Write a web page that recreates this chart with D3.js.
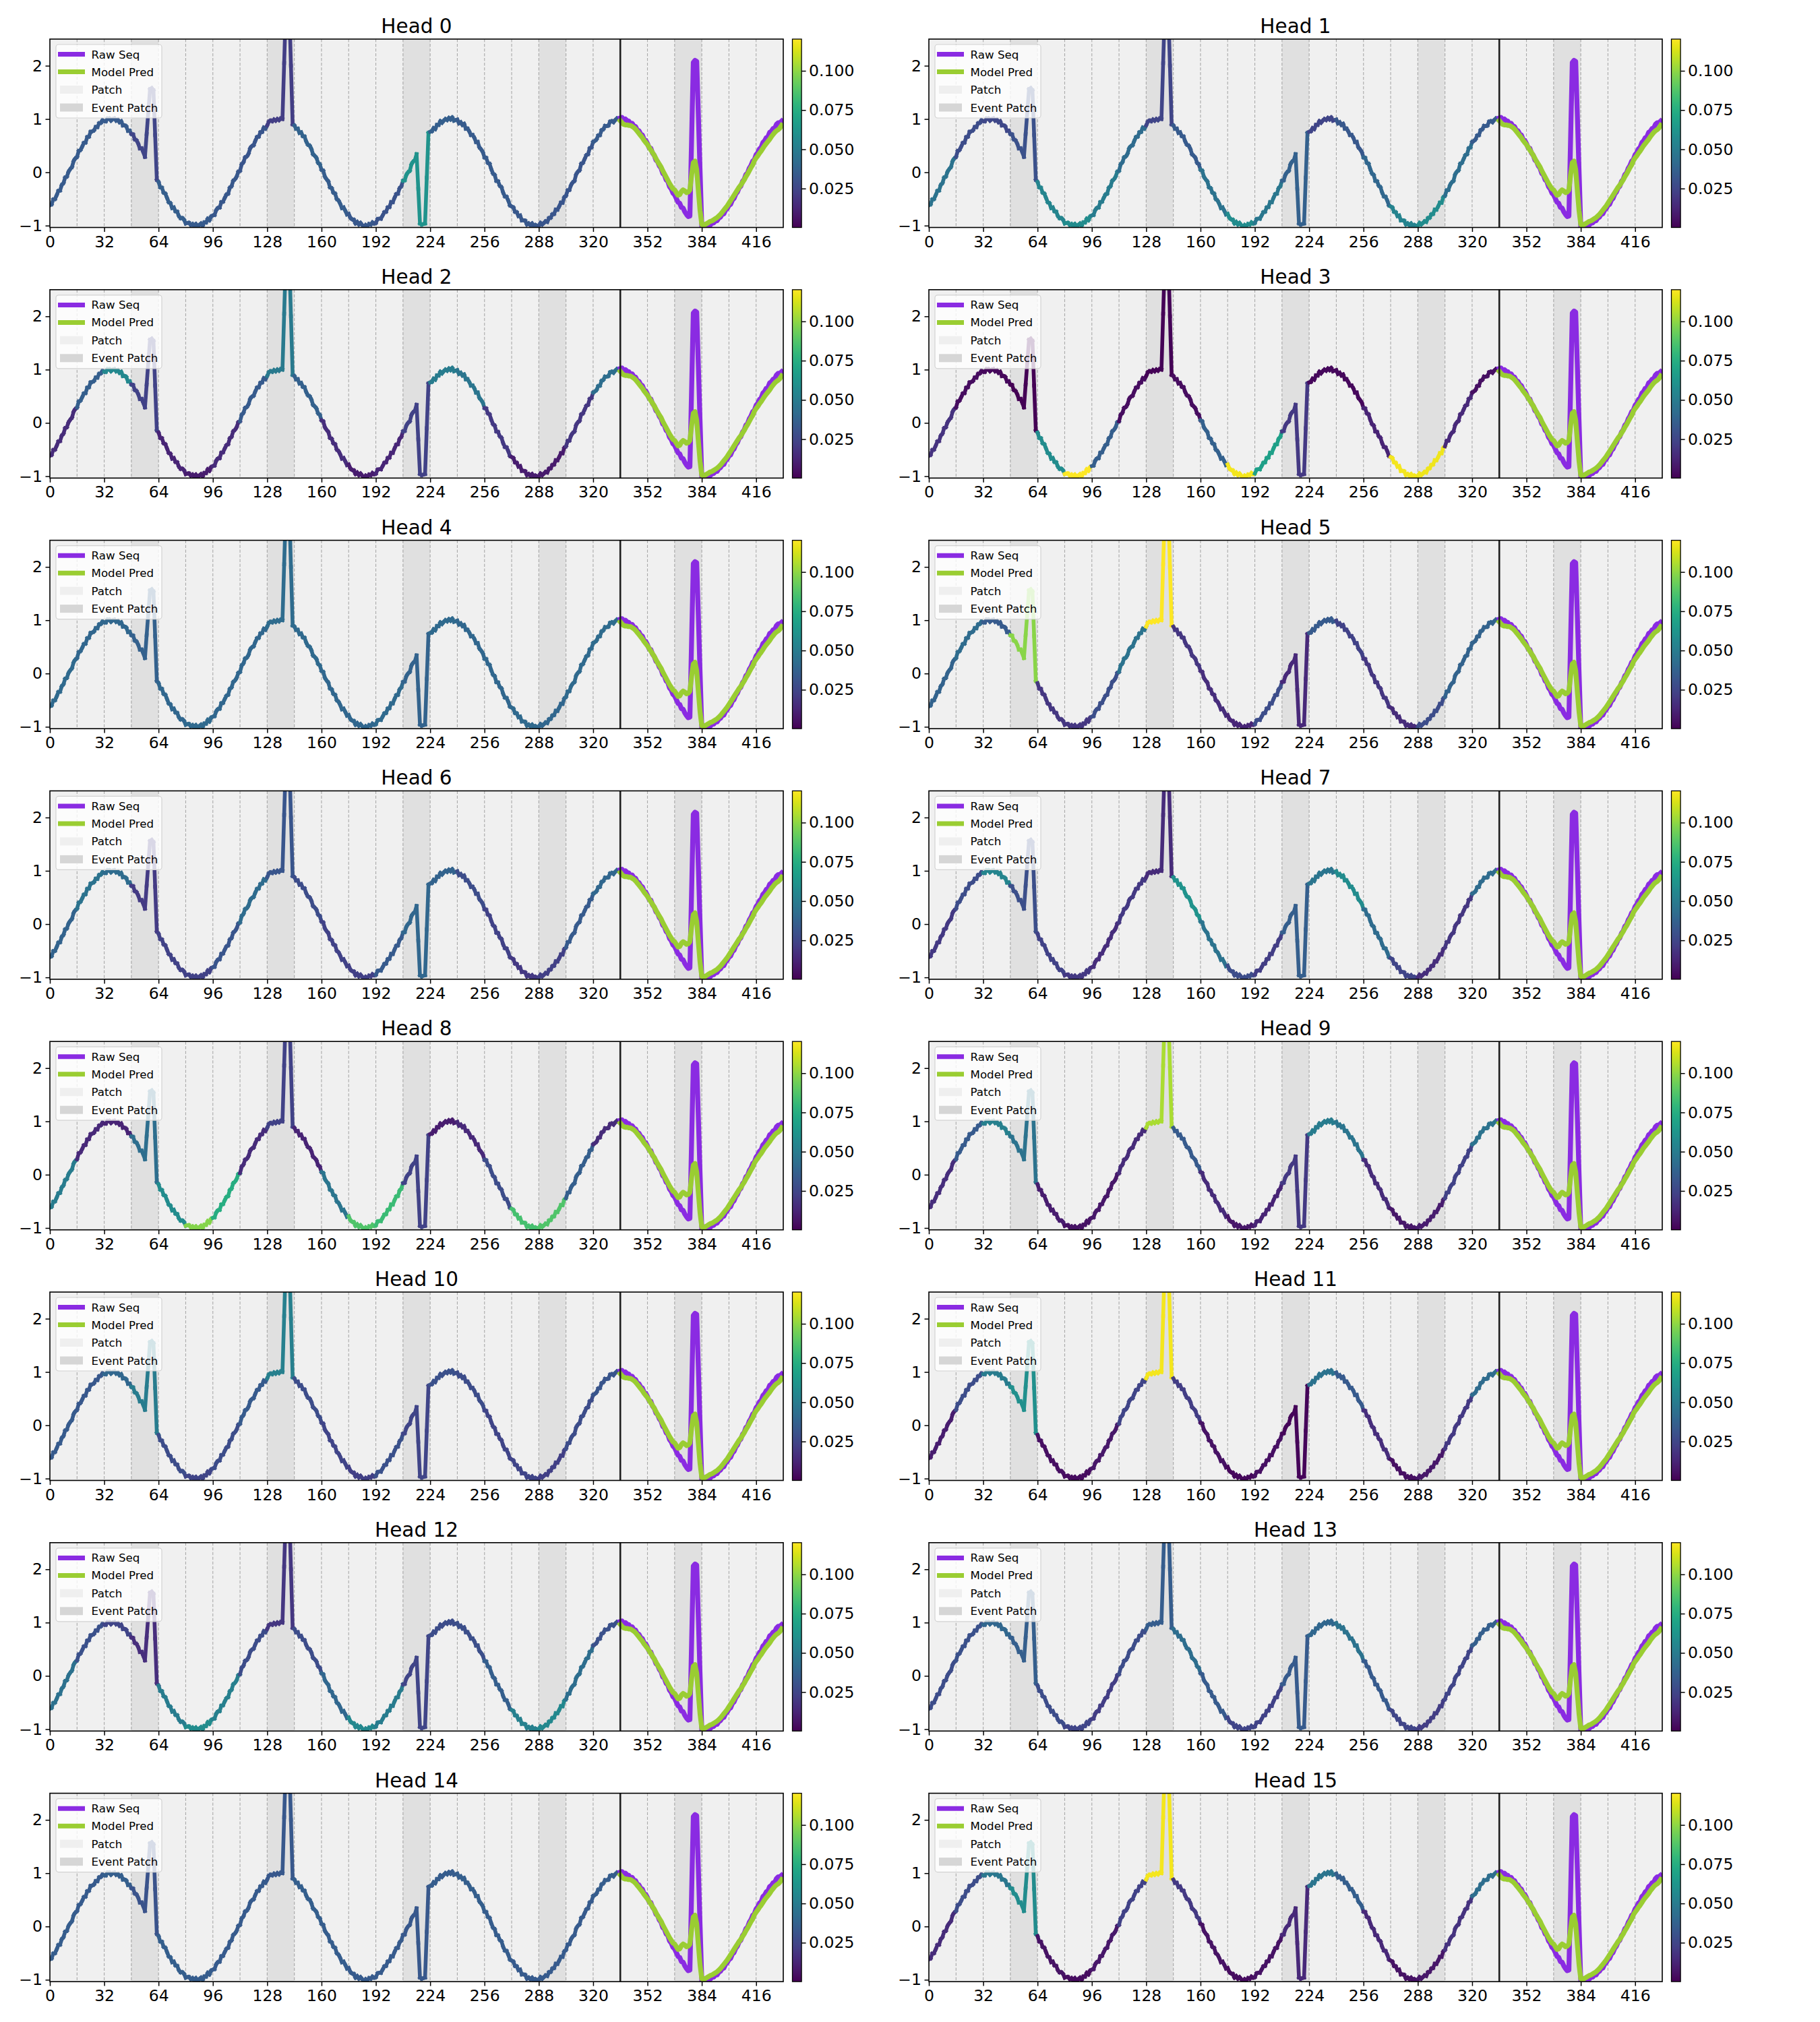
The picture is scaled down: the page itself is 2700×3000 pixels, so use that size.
<!DOCTYPE html>
<html><head><meta charset="utf-8">
<script src="https://cdn.jsdelivr.net/npm/d3@7"></script>
<style>body{margin:0;background:#fff}</style>
</head><body>
<svg id="chart" width="2700" height="3000" xmlns="http://www.w3.org/2000/svg"></svg>
<script>
// ---------------- DATA ----------------
const rawSeq = [
-0.62,-0.60,-0.51,-0.50,-0.43,-0.35,-0.34,-0.24,-0.20,-0.10,
-0.08,0.01,0.06,0.10,0.21,0.26,0.29,0.40,0.42,0.48,
0.55,0.56,0.66,0.67,0.76,0.77,0.79,0.85,0.85,0.92,
0.93,0.98,0.96,0.96,1.01,1.01,0.97,1.00,1.01,0.97,
0.99,0.94,0.96,0.88,0.88,0.86,0.78,0.78,0.72,0.71,
0.62,0.60,0.54,0.45,0.45,0.38,0.29,0.72,1.14,1.56,
1.58,1.54,0.70,-0.14,-0.18,-0.28,-0.29,-0.38,-0.40,-0.48,
-0.56,-0.58,-0.67,-0.66,-0.73,-0.74,-0.82,-0.86,-0.86,-0.89,
-0.96,-0.95,-0.95,-0.99,-0.97,-1.01,-0.97,-1.02,-0.99,-0.96,
-1.00,-0.94,-0.94,-0.87,-0.90,-0.83,-0.81,-0.80,-0.71,-0.67,
-0.66,-0.56,-0.55,-0.48,-0.42,-0.40,-0.29,-0.26,-0.16,-0.13,
-0.08,0.01,0.03,0.15,0.19,0.28,0.30,0.35,0.45,0.49,
0.51,0.59,0.66,0.67,0.75,0.76,0.84,0.82,0.88,0.95,
0.97,0.96,0.99,0.97,1.00,0.98,1.01,1.00,2.05,3.10,
3.10,3.10,2.00,0.90,0.88,0.82,0.82,0.74,0.75,0.68,
0.67,0.58,0.52,0.50,0.44,0.34,0.31,0.27,0.18,0.15,
0.05,0.03,-0.08,-0.13,-0.17,-0.28,-0.30,-0.38,-0.40,-0.50,
-0.53,-0.59,-0.67,-0.66,-0.72,-0.79,-0.78,-0.85,-0.88,-0.89,
-0.96,-0.93,-0.98,-0.95,-0.99,-1.02,-0.99,-1.01,-0.97,-0.98,
-0.94,-0.96,-0.95,-0.88,-0.87,-0.87,-0.81,-0.75,-0.74,-0.66,
-0.65,-0.56,-0.56,-0.48,-0.41,-0.40,-0.30,-0.26,-0.16,-0.15,
-0.05,0.00,0.03,0.15,0.20,0.23,0.34,-0.31,-0.96,-0.98,
-0.97,-0.96,-0.10,0.74,0.76,0.77,0.83,0.81,0.89,0.89,
0.96,0.93,0.97,1.00,0.98,1.02,0.99,1.03,0.97,0.98,
0.99,0.92,0.94,0.89,0.91,0.82,0.82,0.77,0.70,0.70,
0.65,0.57,0.57,0.47,0.43,0.38,0.28,0.27,0.18,0.16,
0.06,-0.02,-0.05,-0.16,-0.17,-0.25,-0.28,-0.38,-0.45,-0.46,
-0.53,-0.62,-0.64,-0.66,-0.74,-0.75,-0.82,-0.81,-0.90,-0.90,
-0.91,-0.98,-0.96,-0.99,-0.96,-1.02,-0.99,-1.00,-1.01,-0.95,
-0.98,-0.95,-0.92,-0.93,-0.86,-0.85,-0.79,-0.78,-0.70,-0.70,
-0.64,-0.57,-0.57,-0.47,-0.44,-0.34,-0.33,-0.24,-0.19,-0.16,
-0.04,0.01,0.04,0.16,0.18,0.25,0.32,0.34,0.45,0.47,
0.57,0.59,0.62,0.69,0.70,0.79,0.81,0.87,0.87,0.88,
0.95,0.96,0.94,0.98,1.01,0.99,1.02,1.03,0.98,1.00,
0.97,0.96,0.91,0.92,0.87,0.86,0.79,0.78,0.72,0.70,
0.62,0.60,0.54,0.46,0.45,0.36,0.32,0.23,0.20,0.12,
0.08,-0.02,-0.05,-0.14,-0.17,-0.27,-0.31,-0.39,-0.42,-0.49,
-0.56,-0.58,-0.66,-0.67,-0.74,-0.79,-0.83,-0.82,0.62,2.06,
2.10,2.08,1.05,0.00,-1.02,-0.99,-0.98,-1.00,-0.97,-0.99,
-0.95,-0.95,-0.91,-0.91,-0.86,-0.84,-0.79,-0.78,-0.71,-0.68,
-0.62,-0.60,-0.52,-0.49,-0.41,-0.37,-0.29,-0.26,-0.17,-0.13,
-0.04,-0.01,0.08,0.13,0.21,0.24,0.33,0.37,0.44,0.47,
0.56,0.59,0.65,0.67,0.75,0.77,0.82,0.83,0.90,0.93,
0.93,0.96
];
// model prediction for t = 336 .. 431
const modelPred = [
0.97,0.93,0.90,0.89,0.89,0.88,0.88,0.86,0.84,0.81,
0.77,0.73,0.69,0.65,0.60,0.56,0.52,0.47,0.42,0.37,
0.32,0.26,0.20,0.15,0.10,0.03,-0.03,-0.09,-0.15,-0.21,
-0.26,-0.31,-0.33,-0.38,-0.43,-0.42,-0.36,-0.33,-0.35,-0.38,
-0.37,-0.33,-0.05,0.18,0.21,0.05,-0.35,-0.72,-0.98,-1.00,
-0.98,-0.96,-0.94,-0.92,-0.91,-0.89,-0.87,-0.85,-0.82,-0.79,
-0.75,-0.71,-0.67,-0.63,-0.58,-0.53,-0.48,-0.43,-0.38,-0.33,
-0.28,-0.24,-0.19,-0.14,-0.08,-0.03,0.03,0.09,0.14,0.22,
0.27,0.31,0.36,0.40,0.45,0.50,0.54,0.58,0.62,0.67,
0.71,0.75,0.78,0.80,0.83,0.88
];
const contextEnd = 336;
const patchSize = 16;
const eventPatchStarts = [48, 128, 208, 288, 368];
const headTitles = ["Head 0","Head 1","Head 2","Head 3","Head 4","Head 5","Head 6","Head 7",
                    "Head 8","Head 9","Head 10","Head 11","Head 12","Head 13","Head 14","Head 15"];
const xTicks = [0,32,64,96,128,160,192,224,256,288,320,352,384,416];
const yTicks = [-1,0,1,2];
const cbarTicks = [0.025,0.050,0.075,0.100];
const legendLabels = ["Raw Seq","Model Pred","Patch","Event Patch"];
// attention weight per context patch (21 patches of 16 steps), one row per head
const headAttention = [
 [0.034,0.034,0.034,0.025,0.036,0.034,0.033,0.032,0.022,0.038,0.035,0.033,0.031,0.062,0.036,0.034,0.034,0.033,0.032,0.032,0.034],
 [0.046,0.028,0.026,0.030,0.055,0.058,0.050,0.042,0.025,0.034,0.046,0.058,0.048,0.037,0.025,0.033,0.040,0.054,0.058,0.043,0.034],
 [0.015,0.036,0.056,0.024,0.012,0.010,0.015,0.034,0.049,0.037,0.016,0.010,0.013,0.024,0.050,0.047,0.020,0.010,0.009,0.019,0.043],
 [0.018,0.004,0.003,0.0005,0.058,0.120,0.036,0.004,0.001,0.004,0.037,0.118,0.068,0.020,0.003,0.003,0.012,0.118,0.117,0.014,0.005],
 [0.041,0.040,0.040,0.037,0.040,0.041,0.040,0.040,0.042,0.041,0.040,0.040,0.041,0.038,0.041,0.040,0.040,0.041,0.040,0.041,0.042],
 [0.038,0.042,0.034,0.099,0.019,0.019,0.029,0.046,0.120,0.019,0.016,0.013,0.028,0.014,0.034,0.024,0.019,0.015,0.028,0.038,0.038],
 [0.038,0.046,0.042,0.021,0.024,0.024,0.032,0.042,0.032,0.028,0.024,0.023,0.034,0.040,0.038,0.028,0.024,0.020,0.023,0.034,0.040],
 [0.020,0.028,0.055,0.029,0.024,0.020,0.016,0.020,0.015,0.062,0.046,0.028,0.022,0.036,0.047,0.058,0.042,0.025,0.016,0.019,0.042],
 [0.050,0.014,0.012,0.043,0.058,0.098,0.075,0.015,0.024,0.012,0.047,0.087,0.082,0.024,0.010,0.014,0.028,0.085,0.087,0.036,0.015],
 [0.016,0.034,0.052,0.046,0.010,0.006,0.008,0.015,0.105,0.034,0.015,0.008,0.012,0.020,0.050,0.047,0.015,0.008,0.010,0.024,0.046],
 [0.034,0.033,0.040,0.050,0.028,0.025,0.028,0.034,0.052,0.028,0.025,0.023,0.030,0.025,0.030,0.028,0.025,0.025,0.023,0.028,0.032],
 [0.010,0.028,0.050,0.060,0.005,0.004,0.008,0.025,0.118,0.022,0.006,0.003,0.005,0.002,0.046,0.034,0.016,0.005,0.008,0.020,0.042],
 [0.045,0.030,0.025,0.016,0.050,0.058,0.052,0.028,0.019,0.028,0.040,0.056,0.050,0.025,0.028,0.029,0.036,0.052,0.056,0.043,0.030],
 [0.028,0.030,0.040,0.036,0.028,0.025,0.022,0.028,0.035,0.043,0.034,0.025,0.024,0.034,0.040,0.046,0.034,0.025,0.022,0.025,0.036],
 [0.035,0.034,0.036,0.031,0.036,0.035,0.034,0.034,0.033,0.036,0.035,0.034,0.034,0.033,0.035,0.036,0.035,0.034,0.034,0.034,0.035],
 [0.015,0.028,0.048,0.058,0.006,0.004,0.008,0.024,0.118,0.020,0.006,0.004,0.006,0.014,0.047,0.036,0.014,0.006,0.008,0.018,0.043]
];

// ---------------- LAYOUT / STYLE ----------------
const FONT = "'DejaVu Sans', 'Liberation Sans', sans-serif";
const colX = [74, 1378], axW = 1088, axH = 279.5, rowTop0 = 58, rowStep = 371.8;
const xDomain = [0, 432], yDomain = [-1.035, 2.5], cDomain = [0.0002, 0.1202];
const rawColor = "#8a2be2", predColor = "#9acd32";
const patchFill = "#f0f0f0", eventFill = "#e0e0e0";

const svg = d3.select("#chart");
svg.append("rect").attr("width", 2700).attr("height", 3000).attr("fill", "#ffffff");
const defs = svg.append("defs");
const color = d3.scaleSequential(d3.interpolateViridis).domain(cDomain);

const grad = defs.append("linearGradient").attr("id", "viridisGrad")
  .attr("x1", 0).attr("y1", 1).attr("x2", 0).attr("y2", 0);
d3.range(0, 1.00001, 0.02).forEach(f => grad.append("stop")
  .attr("offset", f).attr("stop-color", d3.interpolateViridis(f)));

const minus = d => (d < 0 ? "\u2212" + Math.abs(d) : String(d));

headAttention.forEach((att, h) => {
  const col = h % 2, row = Math.floor(h / 2);
  const L = colX[col], T = rowTop0 + row * rowStep;
  const x = d3.scaleLinear().domain(xDomain).range([L, L + axW]);
  const y = d3.scaleLinear().domain(yDomain).range([T + axH, T]);
  const g = svg.append("g").attr("class", "subplot");

  defs.append("clipPath").attr("id", "clip" + h).append("rect")
    .attr("x", L).attr("y", T).attr("width", axW).attr("height", axH);
  const plot = g.append("g").attr("clip-path", `url(#clip${h})`);

  const patchStarts = d3.range(xDomain[0], xDomain[1], patchSize);
  plot.selectAll("rect.patch").data(patchStarts).join("rect").attr("class", "patch")
    .attr("x", d => x(d)).attr("y", T)
    .attr("width", d => x(d + patchSize) - x(d)).attr("height", axH)
    .attr("fill", d => eventPatchStarts.includes(d) ? eventFill : patchFill);

  plot.selectAll("line.grid").data(patchStarts.slice(1)).join("line").attr("class", "grid")
    .attr("x1", d => x(d)).attr("x2", d => x(d)).attr("y1", T).attr("y2", T + axH)
    .attr("stroke", "#8a8a8a").attr("stroke-width", 1.1).attr("stroke-dasharray", "4.5,2.5")
    .attr("opacity", 0.7);

  // attention-colored context sequence
  plot.selectAll("line.seg").data(d3.range(contextEnd)).join("line").attr("class", "seg")
    .attr("x1", t => x(t)).attr("y1", t => y(rawSeq[t]))
    .attr("x2", t => x(t + 1)).attr("y2", t => y(rawSeq[t + 1]))
    .attr("stroke", t => color(att[Math.floor(t / patchSize)]))
    .attr("stroke-width", 5.6).attr("stroke-linecap", "square");

  const futureIdx = d3.range(contextEnd, rawSeq.length);
  plot.append("path").datum(futureIdx)
    .attr("d", d3.line().x(t => x(t)).y(t => y(rawSeq[t])))
    .attr("fill", "none").attr("stroke", rawColor).attr("stroke-width", 7.3)
    .attr("stroke-linejoin", "round").attr("stroke-linecap", "square");
  plot.append("path").datum(modelPred.map((v, i) => [contextEnd + i, v]))
    .attr("d", d3.line().x(d => x(d[0])).y(d => y(d[1])))
    .attr("fill", "none").attr("stroke", predColor).attr("stroke-width", 7.3)
    .attr("stroke-linejoin", "round").attr("stroke-linecap", "square");

  plot.append("line").attr("x1", x(contextEnd)).attr("x2", x(contextEnd))
    .attr("y1", T).attr("y2", T + axH).attr("stroke", "#1e1e1e").attr("stroke-width", 2.6);

  // axes
  const xAxis = g.append("g").attr("transform", `translate(0,${T + axH})`)
    .call(d3.axisBottom(x).tickValues(xTicks).tickSize(6.5).tickPadding(6).tickFormat(d3.format("d")));
  const yAxis = g.append("g").attr("transform", `translate(${L},0)`)
    .call(d3.axisLeft(y).tickValues(yTicks).tickSize(6.5).tickPadding(4.5).tickFormat(minus));
  [xAxis, yAxis].forEach(a => {
    a.select(".domain").remove();
    a.selectAll("line").attr("stroke", "#000").attr("stroke-width", 1.5);
    a.selectAll("text").attr("font-family", FONT).attr("font-size", 23.5).attr("fill", "#000");
  });

  g.append("rect").attr("x", L).attr("y", T).attr("width", axW).attr("height", axH)
    .attr("fill", "none").attr("stroke", "#000").attr("stroke-width", 1.6);

  // title
  g.append("text").attr("x", L + axW / 2).attr("y", T - 9).attr("text-anchor", "middle")
    .attr("font-family", FONT).attr("font-size", 29.5).attr("fill", "#000").text(headTitles[h]);

  // legend
  const lg = g.append("g").attr("transform", `translate(${L},${T})`);
  lg.append("rect").attr("x", 9).attr("y", 8).attr("width", 157).attr("height", 109).attr("rx", 4)
    .attr("fill", "#ffffff").attr("fill-opacity", 0.8).attr("stroke", "#d2d2d2").attr("stroke-width", 1.2);
  const rowsY = [22.6, 48.6, 75, 101.5];
  lg.append("line").attr("x1", 12).attr("x2", 52).attr("y1", rowsY[0]).attr("y2", rowsY[0])
    .attr("stroke", rawColor).attr("stroke-width", 7);
  lg.append("line").attr("x1", 12).attr("x2", 52).attr("y1", rowsY[1]).attr("y2", rowsY[1])
    .attr("stroke", predColor).attr("stroke-width", 7);
  lg.append("rect").attr("x", 15).attr("y", rowsY[2] - 6).attr("width", 34).attr("height", 12).attr("fill", "#efefef");
  lg.append("rect").attr("x", 15).attr("y", rowsY[3] - 6).attr("width", 34).attr("height", 12).attr("fill", "#d6d6d6");
  legendLabels.forEach((lab, i) => {
    lg.append("text").attr("x", 61.5).attr("y", rowsY[i] + 6).attr("font-family", FONT)
      .attr("font-size", 16.7).attr("fill", "#000").text(lab);
  });

  // colorbar
  const cbX = L + axW + 13.5, cbW = 13.6;
  const cScale = d3.scaleLinear().domain(cDomain).range([T + axH, T]);
  g.append("rect").attr("x", cbX).attr("y", T).attr("width", cbW).attr("height", axH)
    .attr("fill", "url(#viridisGrad)");
  const cAxis = g.append("g").attr("transform", `translate(${cbX + cbW},0)`)
    .call(d3.axisRight(cScale).tickValues(cbarTicks).tickSize(6.5).tickPadding(4.5).tickFormat(d3.format(".3f")));
  cAxis.select(".domain").remove();
  cAxis.selectAll("line").attr("stroke", "#000").attr("stroke-width", 1.5);
  cAxis.selectAll("text").attr("font-family", FONT).attr("font-size", 23.5).attr("fill", "#000");
  g.append("rect").attr("x", cbX).attr("y", T).attr("width", cbW).attr("height", axH)
    .attr("fill", "none").attr("stroke", "#000").attr("stroke-width", 1.3);
});
</script>
</body></html>
